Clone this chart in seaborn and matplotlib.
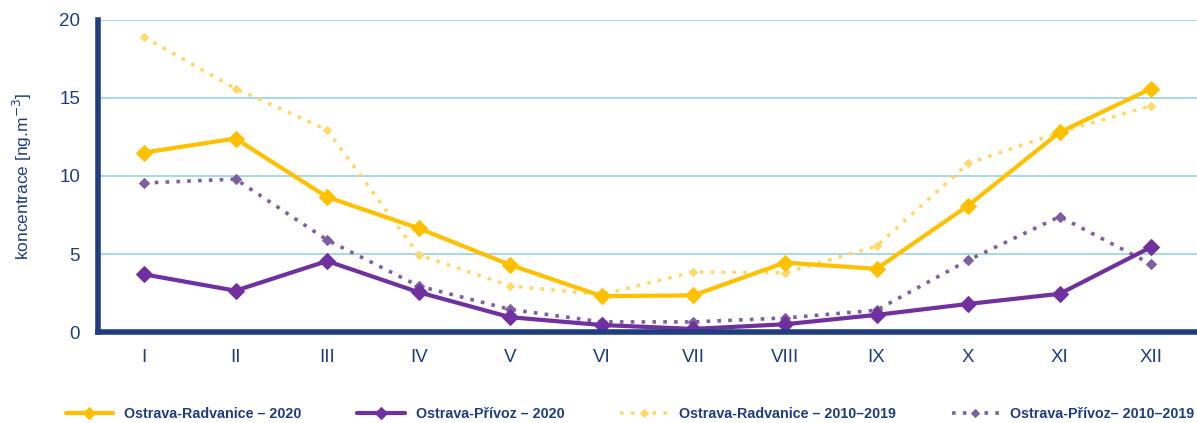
import matplotlib
matplotlib.use("Agg")
import matplotlib.pyplot as plt
import pandas as pd
import seaborn as sns

# data (koncentrace ng.m-3)
mesice = ['I', 'II', 'III', 'IV', 'V', 'VI', 'VII', 'VIII', 'IX', 'X', 'XI', 'XII']
radvanice_2020 = [11.5, 12.4, 8.65, 6.65, 4.3, 2.3, 2.35, 4.45, 4.05, 8.1, 12.8, 15.6]
privoz_2020 = [3.7, 2.65, 4.55, 2.55, 0.95, 0.45, 0.2, 0.5, 1.1, 1.8, 2.45, 5.45]
radvanice_2010_2019 = [18.9, 15.6, 12.95, 4.95, 2.95, 2.4, 3.85, 3.8, 5.5, 10.8, 12.8, 14.5]
privoz_2010_2019 = [9.55, 9.8, 5.9, 2.95, 1.45, 0.65, 0.65, 0.9, 1.4, 4.6, 7.4, 4.35]

nazvy = ['Ostrava-Radvanice – 2020', 'Ostrava-Přívoz – 2020',
         'Ostrava-Radvanice – 2010–2019', 'Ostrava-Přívoz– 2010–2019']

navy = '#1F3D7F'
styly = [
    dict(color='#FFC000', linestyle='-', linewidth=3, marker='D', markersize=8),
    dict(color='#7030A0', linestyle='-', linewidth=3, marker='D', markersize=8),
    dict(color='#FFD966', linestyle=(0, (1, 2)), linewidth=2.6, marker='D', markersize=4.5),
    dict(color='#7F5F9F', linestyle=(0, (1, 2)), linewidth=2.6, marker='D', markersize=5.5),
]

df = pd.DataFrame({'mesic': mesice,
                   nazvy[0]: radvanice_2020,
                   nazvy[1]: privoz_2020,
                   nazvy[2]: radvanice_2010_2019,
                   nazvy[3]: privoz_2010_2019})

sns.set_style('white')
plt.rcParams['font.family'] = ['Liberation Sans', 'DejaVu Sans']

fig = plt.figure(figsize=(11.97, 4.23), dpi=100)
ax = fig.add_axes([0.082, 0.215, 0.918, 0.738])

# dotted series first, solid on top
for i in [2, 3, 0, 1]:
    st = styly[i]
    sns.lineplot(data=df, x='mesic', y=nazvy[i], ax=ax, label=nazvy[i],
                 color=st['color'], linestyle=st['linestyle'], linewidth=st['linewidth'],
                 marker=st['marker'], markersize=st['markersize'],
                 markeredgecolor=st['color'], zorder=3 + (i < 2))

ax.set_xlim(-0.5, 11.5)
ax.set_ylim(0, 20)
ax.set_yticks([0, 5, 10, 15, 20])
ax.yaxis.grid(True, color='#9ED8E2', linewidth=1.3)
ax.set_axisbelow(True)
ax.set_xlabel('')
ax.set_ylabel('koncentrace [ng.m$^{-3}$]', color=navy, fontsize=12.5, labelpad=18)

for s in ['top', 'right']:
    ax.spines[s].set_visible(False)
for s in ['left', 'bottom']:
    ax.spines[s].set_color(navy)
    ax.spines[s].set_linewidth(4)
    ax.spines[s].set_zorder(5)

ax.tick_params(axis='both', length=0, colors=navy, labelsize=13.5)
ax.tick_params(axis='y', pad=13)
ax.tick_params(axis='x', pad=12)

ax.get_legend().remove()
handles, labels = ax.get_legend_handles_labels()
poradi = [labels.index(n) for n in nazvy]
leg = fig.legend([handles[k] for k in poradi], [labels[k] for k in poradi],
                 loc='lower left', bbox_to_anchor=(0.044, -0.025), ncol=4, frameon=False,
                 handlelength=3.3, handletextpad=0.8, columnspacing=3.9, markerscale=0.8,
                 prop=dict(family=['Liberation Sans', 'DejaVu Sans'],
                           weight='bold', size=10.3))
for t in leg.get_texts():
    t.set_color(navy)

plt.savefig('out.png', dpi=100)
plt.close()
